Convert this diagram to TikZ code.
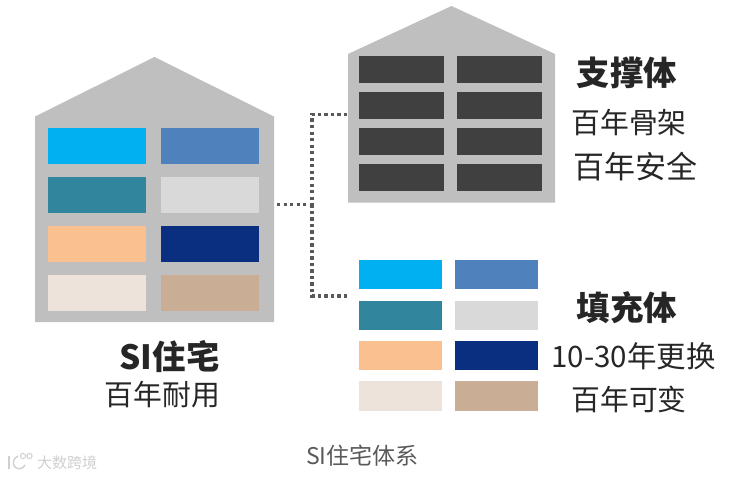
\documentclass[tikz,border=0pt]{standalone}
\usepackage{fontspec}
\setmainfont{Noto Sans CJK SC}
\usepackage{tikz}
\definecolor{housegray}{HTML}{BFBFBF}
\definecolor{framedark}{HTML}{404040}
\definecolor{dotgray}{HTML}{595959}
\definecolor{inkdark}{HTML}{262626}
\definecolor{fillsky}{HTML}{00B0F0}
\definecolor{fillblue}{HTML}{4F81BD}
\definecolor{fillteal}{HTML}{31859C}
\definecolor{filllight}{HTML}{D9D9D9}
\definecolor{fillpeach}{HTML}{FAC090}
\definecolor{fillnavy}{HTML}{0A2F80}
\definecolor{fillcream}{HTML}{EEE3DB}
\definecolor{filltan}{HTML}{C9AE95}
\definecolor{markgray}{HTML}{CFCFCF}
\newcommand{\housebody}[5]{\fill[housegray] (#1,#5)--(#1,#3)--(#2,#4)--(2*#2-#1,#3)--(2*#2-#1,#5)--cycle;}
\newcommand{\panel}[5]{\fill[#5] (#1,#3) rectangle (#2,#4);}
\newcommand{\colorset}[8]{%
\panel{#1}{#2}{#5}{#5+#7}{fillsky}
\panel{#3}{#4}{#5}{#5+#7}{fillblue}
\panel{#1}{#2}{#6}{#6+#7}{fillteal}
\panel{#3}{#4}{#6}{#6+#7}{filllight}
\panel{#1}{#2}{#8}{#8+#7}{fillpeach}
\panel{#3}{#4}{#8}{#8+#7}{fillnavy}}
\tikzset{
  headtext/.style={font=\bfseries\fontsize{33.4}{33.4}\selectfont,text=inkdark,inner sep=0pt},
  subtext/.style={font=\fontsize{28.8}{28.8}\selectfont,text=inkdark,inner sep=0pt},
  linkdots/.style={draw=dotgray,line width=3.8pt,dash pattern=on 3.2pt off 3.3pt}
}
\begin{document}
\begin{tikzpicture}[x=1pt,y=-1pt]
\useasboundingbox (0,0) rectangle (738,476);
% left house
\housebody{35}{154.5}{116.5}{57}{322}
\colorset{48}{146}{161}{259}{128}{177}{36}{226}
\panel{48}{146}{275}{311}{fillcream}
\panel{161}{259}{275}{311}{filltan}
% upper house
\housebody{348}{451.5}{54}{6}{202.5}
\foreach \ypos in {56,92,128,164}{
\panel{359}{444}{\ypos}{\ypos+27}{framedark}
\panel{457}{542}{\ypos}{\ypos+27}{framedark}
}
% lower panels
\colorset{359}{442}{455}{538}{260}{301}{29}{340.5}
\panel{359}{442}{381}{411}{fillcream}
\panel{455}{538}{381}{411}{filltan}
% dotted links
\coordinate (houseout) at (277,204.5);
\coordinate (branch) at (312,204.5);
\coordinate (frameend) at (347,114.5);
\coordinate (fillend) at (347,296);
\draw[linkdots] (houseout) -- (branch);
\draw[linkdots] (frameend) -| (branch);
\draw[linkdots] (fillend) -| (branch);
% labels
\node[headtext] (frametitle) at (627,73) {支撑体};
\node[subtext] (framelife) at (629,123) {百年骨架};
\node[subtext,font=\fontsize{31}{31}\selectfont] (framesafe) at (635.5,167) {百年安全};
\node[headtext] (filltitle) at (627,308) {填充体};
\node[subtext,font=\fontsize{29.5}{29.5}\selectfont] (fillswap) at (633.5,356) {10-30年更换};
\node[subtext] (fillvary) at (629,399) {百年可变};
\node[headtext] (housetitle) at (169.5,357) {SI住宅};
\node[subtext] (houselife) at (162.5,395) {百年耐用};
\node[font=\fontsize{23}{23}\selectfont,text=dotgray,inner sep=0pt] (caption) at (362.5,456) {SI住宅体系};
% watermark
\node[font=\fontsize{15}{15}\selectfont,text=markgray,inner sep=0pt] (mark) at (67,462.5) {大数跨境};
\draw[markgray,line width=1.4pt] (9,456) -- (9,469);
\draw[markgray,line width=1.4pt] (18,456) .. controls (13,458) and (12,464) .. (15,467) .. controls (18,470) and (23,469) .. (25,465);
\draw[markgray,line width=1pt] (23,456) circle[radius=2.6];
\draw[markgray,line width=1pt] (29.5,456) circle[radius=2.6];
\end{tikzpicture}
\end{document}
